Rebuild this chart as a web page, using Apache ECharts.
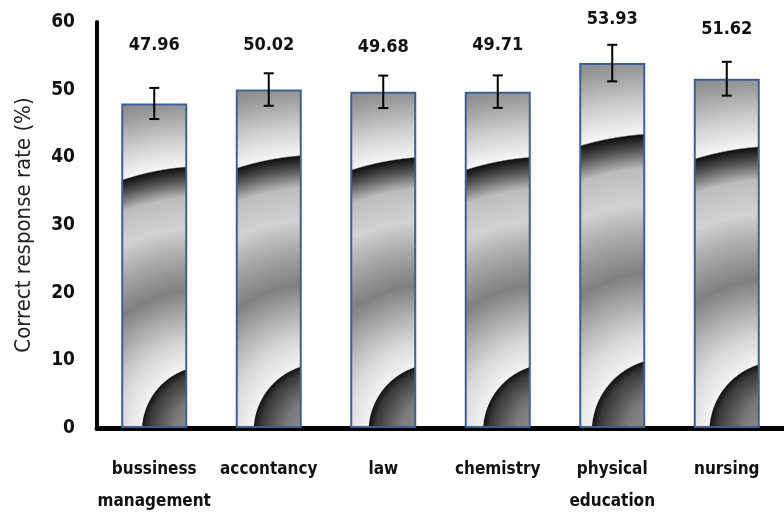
<!DOCTYPE html>
<html>
<head>
<meta charset="utf-8">
<script src="https://cdn.jsdelivr.net/npm/echarts@6/dist/echarts.min.js"></script>
<style>html,body{margin:0;background:#fff}#main{width:784px;height:520px}</style>
</head>
<body>
<div id="main"></div>
<script>
var categories = ['bussiness\nmanagement', 'accontancy', 'law', 'chemistry', 'physical\neducation', 'nursing'];
var rates = [47.96, 50.02, 49.68, 49.71, 53.93, 51.62];
var errors = [2.3, 2.4, 2.4, 2.4, 2.7, 2.5];
var yMin = 0, yMax = 60, yStep = 10;

// label gap above each bar top (px)
var labelGaps = [49, 35, 36, 37, 35, 40];

var narrow = "'Liberation Sans Narrow', 'DejaVu Sans Condensed', sans-serif";

// rough copy of the banded grey fill the original uses
var fillStops = [
    [0, '#a0a0a0'], [0.10, '#7a7a7a'], [0.17, '#3a3a3a'], [0.19, '#141414'],
    [0.193, '#f2f2f2'], [0.26, '#dadada'], [0.33, '#b4b4b4'], [0.42, '#808080'],
    [0.52, '#aaaaaa'], [0.60, '#d2d2d2'], [0.69, '#bdbdbd'], [0.74, '#555555'],
    [0.778, '#111111'], [0.782, '#f5f5f5'], [0.86, '#cfcfcf'], [0.95, '#9a9a9a'],
    [1, '#888888']
];

function barFill(v) {
    return {
        type: 'radial',
        x: 1.30, y: 1.01,
        r: 5.15 * v / rates[0],
        colorStops: fillStops.map(function (s) { return { offset: s[0], color: s[1] }; })
    };
}

var barData = rates.map(function (v, i) {
    return {
        value: v,
        itemStyle: { color: barFill(v) },
        label: { distance: labelGaps[i] }
    };
});

var errData = rates.map(function (v, i) { return [i, v, errors[i]]; });

var chart = echarts.init(document.getElementById('main'));
chart.setOption({
    animation: false,
    grid: { left: 97, right: -11, top: 22, bottom: 92 },
    xAxis: {
        type: 'category',
        data: categories,
        axisLine: { lineStyle: { color: '#000', width: 5 } },
        axisTick: { show: false },
        axisLabel: {
            margin: 26,
            color: '#111',
            fontFamily: narrow,
            fontWeight: 'bold',
            fontSize: 17,
            lineHeight: 32,
            interval: 0
        }
    },
    yAxis: {
        type: 'value',
        min: yMin, max: yMax, interval: yStep,
        name: 'Correct response rate (%)',
        nameLocation: 'middle',
        nameGap: 62,
        nameTextStyle: {
            color: '#222',
            fontFamily: "'DejaVu Sans Condensed', sans-serif",
            fontSize: 22
        },
        axisLine: { show: true, lineStyle: { color: '#000', width: 4 } },
        axisTick: { show: false },
        splitLine: { show: false },
        axisLabel: {
            margin: 22,
            color: '#111',
            fontFamily: narrow,
            fontWeight: 'bold',
            fontSize: 19
        }
    },
    series: [
        {
            type: 'bar',
            barWidth: 66,
            data: barData,
            itemStyle: { borderColor: '#3c6094', borderWidth: 2 },
            label: {
                show: true,
                position: 'top',
                color: '#111',
                fontFamily: narrow,
                fontWeight: 'bold',
                fontSize: 18,
                formatter: function (p) { return p.value.toFixed(2); }
            }
        },
        {
            type: 'custom',
            data: errData,
            z: 5,
            renderItem: function (params, api) {
                var x = api.coord([api.value(0), api.value(1)])[0];
                var top = api.coord([api.value(0), api.value(1) + api.value(2)])[1];
                var bot = api.coord([api.value(0), api.value(1) - api.value(2)])[1];
                var half = 5;
                var st = { stroke: '#000', lineWidth: 2 };
                return {
                    type: 'group',
                    children: [
                        { type: 'line', shape: { x1: x, y1: top, x2: x, y2: bot }, style: st },
                        { type: 'line', shape: { x1: x - half, y1: top, x2: x + half, y2: top }, style: st },
                        { type: 'line', shape: { x1: x - half, y1: bot, x2: x + half, y2: bot }, style: st }
                    ]
                };
            }
        }
    ]
});
</script>
</body>
</html>
